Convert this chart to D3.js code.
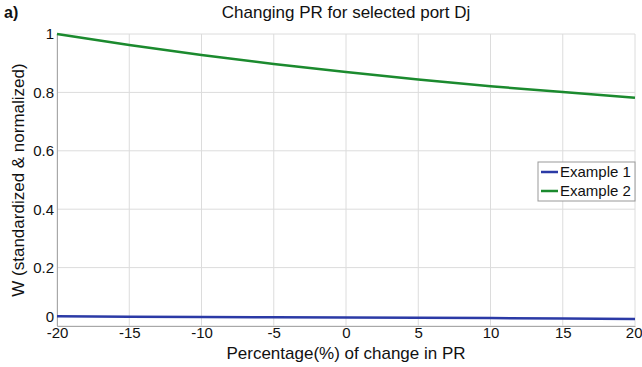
<!DOCTYPE html>
<html>
<head>
<meta charset="utf-8">
<script src="https://cdn.jsdelivr.net/npm/d3@7"></script>
<style>
body { margin: 0; background: #fff; }
text { font-family: "Liberation Sans", Arial, sans-serif; }
</style>
</head>
<body>
<svg id="chart" width="642" height="367"></svg>
<script>
// values
var pct = [-20, -15, -10, -5, 0, 5, 10, 15, 20]
var example1 = [0.033, 0.032, 0.031, 0.030, 0.029, 0.028, 0.027, 0.026, 0.024]
var example2 = [1.0, 0.962, 0.928, 0.897, 0.870, 0.844, 0.821, 0.801, 0.782]
var xTicks = [-20, -15, -10, -5, 0, 5, 10, 15, 20]
var yTicks = [0, 0.2, 0.4, 0.6, 0.8, 1]
var seriesNames = ['Example 1', 'Example 2']
var seriesColors = ['#2b3aa6', '#1b8a2e']

var svg = d3.select('#chart')
var m = {top: 34, left: 57, right: 7, bottom: 41}
var width = 642 - m.left - m.right
var height = 367 - m.top - m.bottom

var x = d3.scaleLinear().domain([-20, 20]).range([0, width])
var y = d3.scaleLinear().domain([0, 1]).range([height, 0])

var g = svg.append('g').attr('transform', `translate(${m.left},${m.top})`)

// grid
g.append('g').selectAll('line').data(xTicks).join('line')
  .attr('x1', d => x(d)).attr('x2', d => x(d))
  .attr('y1', 0).attr('y2', height)
  .attr('stroke', '#dcdcdc').attr('stroke-width', 1)
g.append('g').selectAll('line').data(yTicks).join('line')
  .attr('x1', 0).attr('x2', width)
  .attr('y1', d => y(d)).attr('y2', d => y(d))
  .attr('stroke', '#dcdcdc').attr('stroke-width', 1)

// axes
var xAxis = g.append('g').attr('transform', `translate(0,${height})`)
  .call(d3.axisBottom(x).tickValues(xTicks).tickSize(0).tickPadding(2).tickFormat(d => String(d)))
var yAxis = g.append('g')
  .call(d3.axisLeft(y).tickValues(yTicks).tickSize(0).tickPadding(3).tickFormat(d => String(d)))
;[xAxis, yAxis].forEach(a => {
  a.select('.domain').attr('stroke', '#a8a8a8')
  a.selectAll('text').attr('font-size', 15).attr('fill', '#111')
    .style('font-family', '"Liberation Sans", Arial, sans-serif')
})
xAxis.selectAll('text').attr('dy', '0.65em')
// last label would run past the window edge
xAxis.selectAll('.tick').filter(d => d === 20).select('text')
  .attr('text-anchor', 'end').attr('x', 7)
// the "0" sits just above the "-20" corner label
yAxis.selectAll('.tick').filter(d => d === 0).select('text').attr('dy', '-0.3em')

// lines
var line = d3.line().x((d, i) => x(pct[i])).y(d => y(d))
;[example1, example2].forEach((s, i) => {
  g.append('path').datum(s)
    .attr('d', line)
    .attr('fill', 'none')
    .attr('stroke', seriesColors[i])
    .attr('stroke-width', 2.5)
})

// legend
var lg = g.append('g').attr('transform', `translate(${width - 97},${128})`)
lg.append('rect').attr('width', 97).attr('height', 39)
  .attr('fill', '#fff').attr('stroke', '#999')
seriesNames.forEach((n, i) => {
  var row = lg.append('g').attr('transform', `translate(0,${10 + i * 19})`)
  row.append('line').attr('x1', 3).attr('x2', 20)
    .attr('stroke', seriesColors[i]).attr('stroke-width', 2.5)
  row.append('text').text(n).attr('x', 22).attr('dy', '0.35em')
    .attr('font-size', 15).attr('fill', '#111')
})

// titles
svg.append('text').text('Changing PR for selected port Dj')
  .attr('x', m.left + width / 2).attr('y', 18)
  .attr('text-anchor', 'middle').attr('font-size', 17).attr('fill', '#111')
svg.append('text').text('a)')
  .attr('x', 4).attr('y', 18)
  .attr('font-size', 16).attr('font-weight', 'bold').attr('fill', '#111')
svg.append('text').text('Percentage(%) of change in PR')
  .attr('x', m.left + width / 2).attr('y', 359)
  .attr('text-anchor', 'middle').attr('font-size', 17).attr('fill', '#111')
svg.append('text').text('W (standardized & normalized)')
  .attr('transform', `translate(24,${m.top + height / 2}) rotate(-90)`)
  .attr('text-anchor', 'middle').attr('font-size', 17).attr('fill', '#111')
</script>
</body>
</html>
